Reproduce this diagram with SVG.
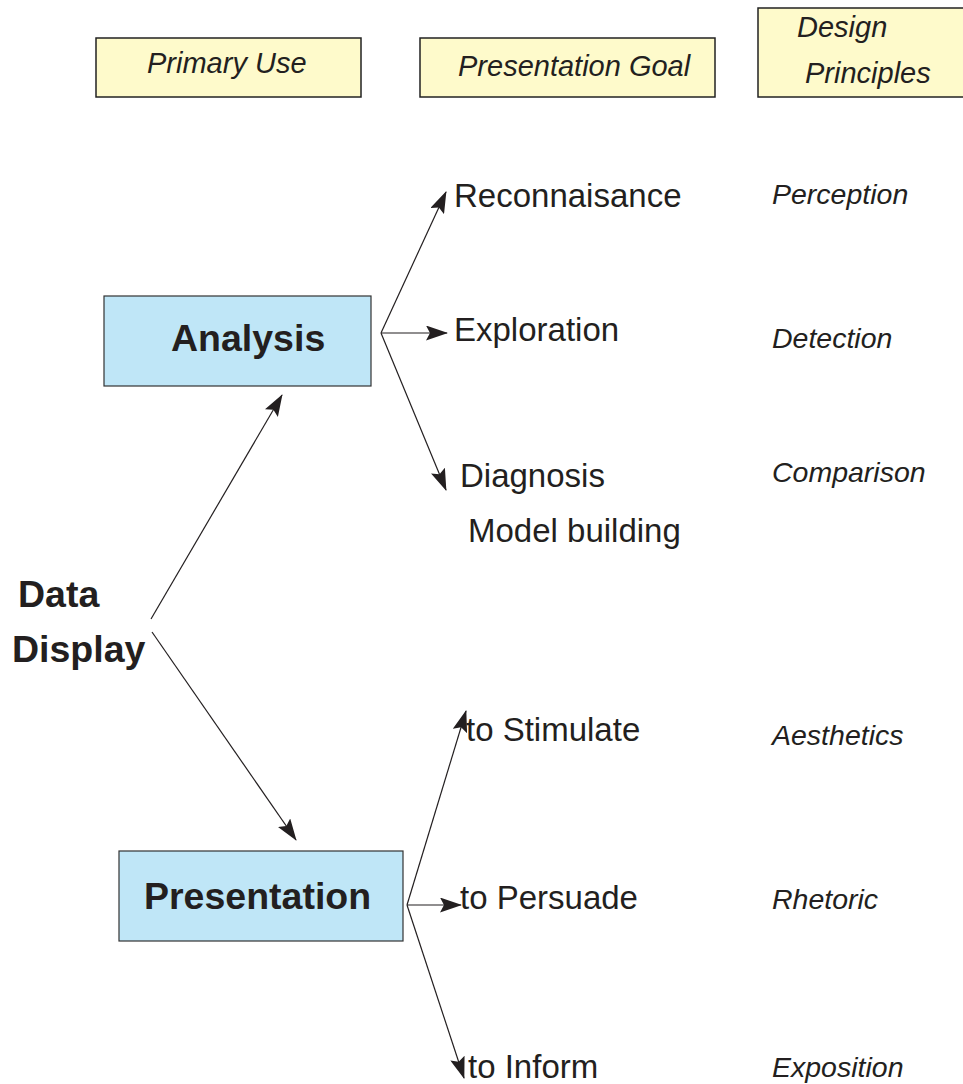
<svg xmlns="http://www.w3.org/2000/svg" width="963" height="1084" viewBox="0 0 963 1084">
  <style>
    .hdr { fill: #fefacb; stroke: #222; stroke-width: 1.5; }
    .main { fill: #bfe6f7; stroke: #333; stroke-width: 1.2; }
    .hdrtxt { font-family: "Liberation Sans", Arial, sans-serif; font-style: italic; font-size: 29px; fill: #231f20; }
    .goal { font-family: "Liberation Sans", Arial, sans-serif; font-size: 33px; fill: #231f20; }
    .prin { font-family: "Liberation Sans", Arial, sans-serif; font-style: italic; font-size: 28.5px; fill: #231f20; }
    .bold { font-family: "Liberation Sans", Arial, sans-serif; font-weight: bold; font-size: 37.5px; fill: #231f20; }
    .conn line { stroke: #231f20; stroke-width: 1.2; fill: none; marker-end: url(#arrow); }
  </style>
  <defs>
    <marker id="arrow" markerWidth="22" markerHeight="15" refX="21" refY="7.5" orient="auto" markerUnits="userSpaceOnUse">
      <path d="M0,0 L22,7.5 L0,15 L4,7.5 Z" fill="#231f20"/>
    </marker>
  </defs>
  <rect width="963" height="1084" fill="#ffffff"/>

  <!-- column headers -->
  <g id="hdr-primary-use">
    <rect class="hdr" x="96" y="38" width="265" height="59"/>
    <text class="hdrtxt" x="147" y="73">Primary Use</text>
  </g>
  <g id="hdr-presentation-goal">
    <rect class="hdr" x="420" y="38" width="295" height="59"/>
    <text class="hdrtxt" x="458" y="76">Presentation Goal</text>
  </g>
  <g id="hdr-design-principles">
    <rect class="hdr" x="758" y="8" width="215" height="89"/>
    <text class="hdrtxt" x="797" y="37">Design</text>
    <text class="hdrtxt" x="805" y="83">Principles</text>
  </g>

  <!-- root label -->
  <g id="data-display">
    <text class="bold" x="18" y="607" font-size="36">Data</text>
    <text class="bold" x="12" y="662" font-size="36.5">Display</text>
  </g>

  <!-- primary uses -->
  <g id="analysis">
    <rect class="main" x="104" y="296" width="267" height="90"/>
    <text class="bold" x="171" y="351">Analysis</text>
  </g>
  <g id="presentation">
    <rect class="main" x="119" y="851" width="284" height="90"/>
    <text class="bold" x="144" y="909">Presentation</text>
  </g>

  <!-- presentation goals -->
  <g id="reconnaisance"><text class="goal" x="454" y="207">Reconnaisance</text></g>
  <g id="exploration"><text class="goal" x="454" y="341">Exploration</text></g>
  <g id="diagnosis"><text class="goal" x="460" y="487">Diagnosis</text></g>
  <g id="model-building"><text class="goal" x="468" y="542">Model building</text></g>
  <g id="stimulate"><text class="goal" x="466" y="741">to Stimulate</text></g>
  <g id="persuade"><text class="goal" x="460" y="909">to Persuade</text></g>
  <g id="inform"><text class="goal" x="468" y="1078">to Inform</text></g>

  <!-- design principles -->
  <g id="perception"><text class="prin" x="772" y="204">Perception</text></g>
  <g id="detection"><text class="prin" x="772" y="348">Detection</text></g>
  <g id="comparison"><text class="prin" x="772" y="482">Comparison</text></g>
  <g id="aesthetics"><text class="prin" x="772" y="745">Aesthetics</text></g>
  <g id="rhetoric"><text class="prin" x="772" y="909">Rhetoric</text></g>
  <g id="exposition"><text class="prin" x="772" y="1077">Exposition</text></g>

  <!-- connectors -->
  <g id="connectors" class="conn">
    <line x1="151" y1="619" x2="282" y2="395"/>
    <line x1="152" y1="632" x2="296" y2="840"/>
    <line x1="381" y1="333" x2="446" y2="192"/>
    <line x1="381" y1="333" x2="447" y2="333"/>
    <line x1="381" y1="333" x2="446" y2="490"/>
    <line x1="407" y1="905" x2="466" y2="711"/>
    <line x1="407" y1="905" x2="461" y2="905"/>
    <line x1="407" y1="905" x2="464" y2="1078"/>
  </g>
</svg>
